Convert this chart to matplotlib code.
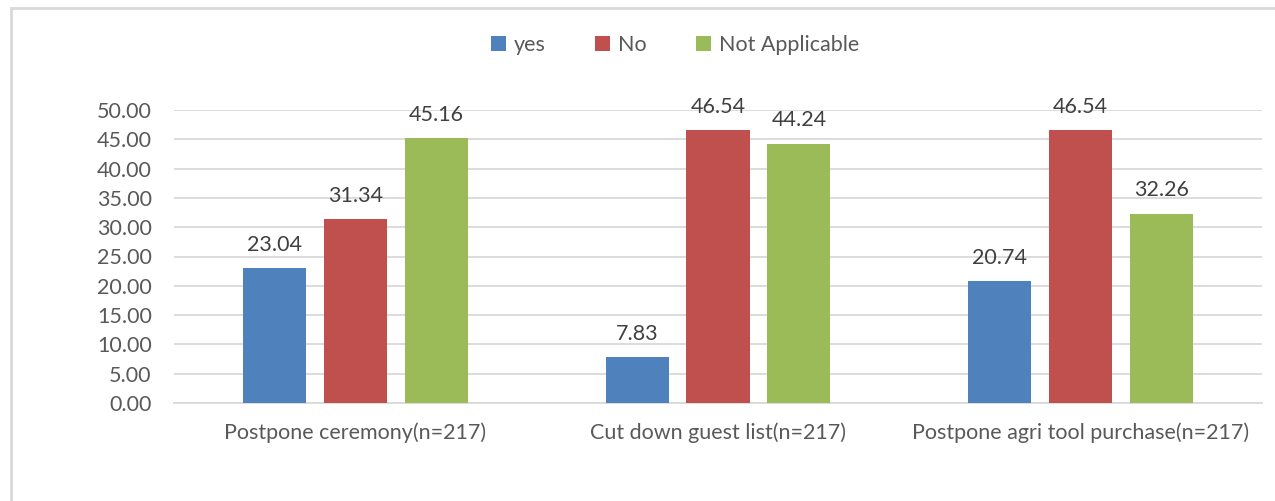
import matplotlib.pyplot as plt
import numpy as np
from matplotlib.patches import Rectangle

# data
categories = ['Postpone ceremony(n=217)', 'Cut down guest list(n=217)', 'Postpone agri tool purchase(n=217)']
series_names = ['yes', 'No', 'Not Applicable']
yes_vals = [23.04, 7.83, 20.74]
no_vals = [31.34, 46.54, 46.54]
na_vals = [45.16, 44.24, 32.26]
yticks = [0, 5, 10, 15, 20, 25, 30, 35, 40, 45, 50]

colors = ['#4F81BD', '#C0504D', '#9BBB59']

plt.rcParams['font.family'] = ['Lato', 'DejaVu Sans']

W, H = 1275, 501
fig = plt.figure(figsize=(W / 100, H / 100), dpi=100)
ax = fig.add_axes([174 / W, 1 - 403 / H, (1262 - 174) / W, (403 - 110) / H])

x = np.arange(len(categories))
offset = 0.223
width = 0.174
for i, (vals, name) in enumerate(zip([yes_vals, no_vals, na_vals], series_names)):
    bars = ax.bar(x + (i - 1) * offset, vals, width, color=colors[i], label=name, zorder=3)
    for b, v in zip(bars, vals):
        ax.text(b.get_x() + b.get_width() / 2, v + 2.3, f'{v:.2f}', ha='center', va='bottom',
                fontsize=15.5, color='#404040')

ax.set_xlim(-0.5, 2.5)
ax.set_ylim(0, 50)
ax.set_yticks(yticks)
ax.set_yticklabels([f'{t:.2f}' for t in yticks])
ax.set_xticks(x)
ax.set_xticklabels(categories)
ax.tick_params(axis='both', length=0, labelsize=15.5, labelcolor='#595959')
ax.tick_params(axis='y', pad=16)
ax.tick_params(axis='x', pad=14)
ax.grid(axis='y', color='#d9d9d9', linewidth=1.3, zorder=0)
for s in ['top', 'right', 'left']:
    ax.spines[s].set_visible(False)
ax.spines['bottom'].set_color('#d9d9d9')
ax.spines['bottom'].set_linewidth(1.3)

leg = fig.legend(loc='center', bbox_to_anchor=(675 / W, 1 - 45 / H), ncol=3, frameon=False,
                 fontsize=15.5, handlelength=0.7, handleheight=0.7, handletextpad=0.35,
                 columnspacing=2.3, labelcolor='#595959')

# chart border
fig.patches.append(Rectangle((11 / W, -0.1), 1.2, 1 - 8 / H + 0.1, transform=fig.transFigure,
                             fill=False, edgecolor='#d9d9d9', linewidth=2))

fig.savefig('out.png', dpi=100)
